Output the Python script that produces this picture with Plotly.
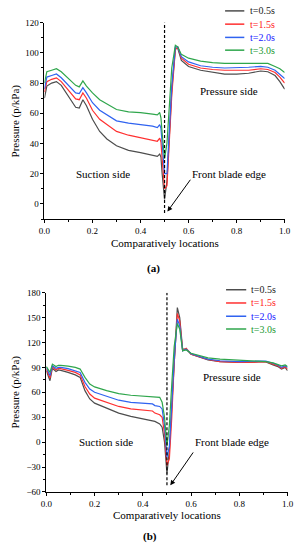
import plotly.graph_objects as go

# ---------------- data ----------------
series_names = ["t=0.5s", "t=1.5s", "t=2.0s", "t=3.0s"]
line_colors = ["#4d4d4d", "#ff3030", "#3063f0", "#2fa64c"]
text_colors = ["#222222", "#ff2020", "#2020ff", "#229933"]

# panel (a)
xa = [0, 0.01, 0.03, 0.05, 0.07, 0.10, 0.13, 0.145, 0.16, 0.175, 0.2, 0.23, 0.26, 0.3,
      0.35, 0.4, 0.45, 0.47, 0.48, 0.485, 0.49, 0.5, 0.51, 0.52, 0.53, 0.545, 0.555,
      0.57, 0.6, 0.65, 0.7, 0.75, 0.8, 0.85, 0.9, 0.93, 0.96, 0.98, 1.0]
ya_05 = [70, 78, 80, 81, 78.5, 71, 64, 63.5, 69, 65, 56, 48, 43, 38.5,
         35.5, 34, 32.5, 31.5, 33, 31, 20, 3, 15, 45, 75, 103, 103,
         95, 91, 88.5, 87, 86, 86, 86.5, 88, 87.5, 85, 81, 76]
ya_15 = [74, 81, 82.5, 83.5, 81, 75, 69.5, 69, 73.5, 70, 62, 56, 52.5, 48,
         45.5, 44, 42.5, 41.5, 43.5, 41, 30, 10, 12, 42, 72, 102, 104,
         96.5, 92.5, 90, 89, 88.5, 88.5, 88.5, 89.5, 89, 87, 84, 80]
ya_20 = [76, 84, 85, 86, 83.5, 78.5, 73.5, 73, 77, 73.5, 67, 62, 59, 55,
         53.5, 52.5, 51.5, 50.5, 52.5, 50, 40, 20, 20, 48, 78, 104, 104,
         97.5, 94, 91.5, 90.5, 90, 90, 90.5, 91, 90.5, 88.5, 86, 83]
ya_30 = [80, 87.5, 88.5, 89.5, 87.5, 83, 78.5, 77.5, 81.5, 78, 73.5, 69, 66, 62.5,
         61, 60.5, 59.5, 59, 60.5, 57, 47, 30, 40, 68, 90, 105, 104,
         99, 96.5, 94.5, 93.5, 93, 93, 93, 93.5, 93, 91, 89.5, 87]

# panel (b)
xb = [0, 0.008, 0.015, 0.025, 0.04, 0.05, 0.06, 0.09, 0.12, 0.14, 0.16, 0.18, 0.2,
      0.25, 0.3, 0.35, 0.4, 0.44, 0.45, 0.47, 0.48, 0.49, 0.5, 0.51, 0.52, 0.53,
      0.543, 0.553, 0.565, 0.58, 0.6, 0.63, 0.67, 0.72, 0.8, 0.88, 0.91, 0.94,
      0.96, 0.975, 0.99, 1.0]
yb_05 = [86, 80, 74, 89, 85, 87, 86.5, 84, 81, 78, 62, 52, 47,
         41, 35, 31, 28, 26.5, 25, 22, 18, 0, -38, -10, 40, 100,
         162, 150, 112, 112, 106, 103, 99, 97, 96, 96.5, 96.5, 93,
         91, 88, 90, 86]
yb_15 = [88, 82, 77, 91, 87, 89, 88.5, 86.5, 84, 81, 67, 58, 53,
         48, 43, 40, 38.5, 37.5, 35, 33, 30, 10, -28, -20, 30, 95,
         155, 146, 110, 113, 106, 103, 99.5, 97, 96, 96.5, 97, 94,
         92, 89, 91, 88]
yb_20 = [90, 85, 80, 92, 89, 90, 90, 88.5, 86, 84, 72, 64, 60,
         55, 50.5, 48, 47, 46, 44, 43, 40, 20, -18, -5, 45, 100,
         148, 140, 110, 112, 106.5, 103.5, 100, 98, 97, 97.5, 97.5, 95,
         93, 90, 92, 90]
yb_30 = [91, 88, 84, 94, 91, 92.5, 92.5, 91.5, 90, 88, 78, 70, 66.5,
         62, 58.5, 56.5, 55.5, 55, 54.5, 54, 48, 30, -5, 20, 70, 115,
         143, 136, 110, 111, 107, 104.5, 101.5, 100, 98.5, 97.5, 97, 95.5,
         94, 92, 93, 91]

ya_all = [ya_05, ya_15, ya_20, ya_30]
yb_all = [yb_05, yb_15, yb_20, yb_30]

FONT = "Liberation Serif"
W, H = 307, 550

fig = go.Figure()
for name, col, ys in zip(series_names, line_colors, ya_all):
    fig.add_trace(go.Scatter(x=xa, y=ys, mode="lines", name=name,
                             line=dict(color=col, width=1.2),
                             showlegend=False, xaxis="x", yaxis="y"))
for name, col, ys in zip(series_names, line_colors, yb_all):
    fig.add_trace(go.Scatter(x=xb, y=ys, mode="lines", name=name,
                             line=dict(color=col, width=1.2),
                             showlegend=False, xaxis="x2", yaxis="y2"))

def px_x(p):
    return p / W

def px_y(p):
    return 1 - p / H

axis_common = dict(showline=True, linecolor="black", linewidth=1, ticks="outside",
                   ticklen=3, tickwidth=1, tickcolor="black", showgrid=False,
                   zeroline=False, mirror=False,
                   tickfont=dict(family=FONT, size=9, color="black"))

fig.update_layout(
    width=W, height=H, margin=dict(l=0, r=0, t=0, b=0),
    paper_bgcolor="white", plot_bgcolor="white",
    font=dict(family=FONT, color="black"),
    xaxis=dict(domain=[px_x(40), px_x(290)], range=[0, 1], dtick=0.2, tick0=0,
               tickformat=".1f", anchor="y",
               minor=dict(dtick=0.1, ticks="outside", ticklen=2, tickcolor="black"),
               **axis_common),
    yaxis=dict(domain=[px_y(218), px_y(18)], range=[-10, 120], dtick=20, tick0=0,
               anchor="x",
               minor=dict(dtick=10, ticks="outside", ticklen=2, tickcolor="black"),
               **axis_common),
    xaxis2=dict(domain=[px_x(42), px_x(293)], range=[0, 1], dtick=0.2, tick0=0,
                tickformat=".1f", anchor="y2",
                minor=dict(dtick=0.1, ticks="outside", ticklen=2, tickcolor="black"),
                **axis_common),
    yaxis2=dict(domain=[px_y(496), px_y(293)], range=[-60, 180], dtick=30, tick0=0,
                anchor="x2",
                minor=dict(dtick=15, ticks="outside", ticklen=2, tickcolor="black"),
                **axis_common),
)

# dashed leading-edge lines
fig.add_shape(type="line", xref="x", yref="y", x0=0.5, x1=0.5, y0=-6, y1=122,
              line=dict(color="black", width=1.2, dash="3px,2px"))
fig.add_shape(type="line", xref="x2", yref="y2", x0=0.5, x1=0.5, y0=-52, y1=180,
              line=dict(color="black", width=1.2, dash="3px,2px"))

ann_font = dict(family=FONT, size=11, color="black")
C = dict(xanchor="center", yanchor="middle", showarrow=False)
anns = []
# in-plot labels (a)
anns.append(dict(x=0.245, y=20, xref="x", yref="y", text="Suction side", font=ann_font, **C))
anns.append(dict(x=0.77, y=75, xref="x", yref="y", text="Pressure side", font=ann_font, **C))
anns.append(dict(x=0.77, y=20, xref="x", yref="y", text="Front blade edge", font=ann_font, **C))
anns.append(dict(x=0.512, y=-5, xref="x", yref="y", ax=0.612, ay=17,
                 axref="x", ayref="y", text="", showarrow=True,
                 arrowhead=2, arrowsize=1, arrowwidth=1, arrowcolor="black"))
# in-plot labels (b)
anns.append(dict(x=0.247, y=0, xref="x2", yref="y2", text="Suction side", font=ann_font, **C))
anns.append(dict(x=0.77, y=79, xref="x2", yref="y2", text="Pressure side", font=ann_font, **C))
anns.append(dict(x=0.77, y=0, xref="x2", yref="y2", text="Front blade edge", font=ann_font, **C))
anns.append(dict(x=0.514, y=-52, xref="x2", yref="y2", ax=0.613, ay=-10.6,
                 axref="x2", ayref="y2", text="", showarrow=True,
                 arrowhead=2, arrowsize=1, arrowwidth=1, arrowcolor="black"))

# axis titles and panel labels
title_font = dict(family=FONT, size=11, color="black")
anns.append(dict(x=px_x(10), y=px_y(118), xref="paper", yref="paper",
                 text="Pressure (p/kPa)", textangle=-90, font=title_font, **C))
anns.append(dict(x=px_x(10), y=px_y(394), xref="paper", yref="paper",
                 text="Pressure (p/kPa)", textangle=-90, font=title_font, **C))
anns.append(dict(x=px_x(165), y=px_y(242), xref="paper", yref="paper",
                 text="Comparatively locations", font=title_font, **C))
anns.append(dict(x=px_x(167.5), y=px_y(519), xref="paper", yref="paper",
                 text="Comparatively locations", font=title_font, **C))
anns.append(dict(x=px_x(153), y=px_y(268), xref="paper", yref="paper",
                 text="<b>(a)</b>", font=title_font, **C))
anns.append(dict(x=px_x(150), y=px_y(541), xref="paper", yref="paper",
                 text="<b>(b)</b>", font=title_font, **C))

# legends (drawn as key lines + coloured labels)
leg_a_y = [6, 19.5, 33, 46]
leg_b_y = [290, 303.5, 317, 330]
for ys_px, x0, x1, xt in [(leg_a_y, 228, 248, 252), (leg_b_y, 229, 250, 253)]:
    for name, lc, tc, yp in zip(series_names, line_colors, text_colors, ys_px):
        fig.add_shape(type="line", xref="paper", yref="paper",
                      x0=px_x(x0), x1=px_x(x1), y0=px_y(yp), y1=px_y(yp),
                      line=dict(color=lc, width=1.5))
        anns.append(dict(x=px_x(xt), y=px_y(yp), xref="paper", yref="paper",
                         text=name, showarrow=False, xanchor="left", yanchor="middle",
                         font=dict(family=FONT, size=10, color=tc)))

fig.update_layout(annotations=anns)
fig.write_html(
    "out.html",
    config={"displayModeBar": False},
    post_script="document.body.style.margin='0px';document.body.style.overflow='hidden';",
)
